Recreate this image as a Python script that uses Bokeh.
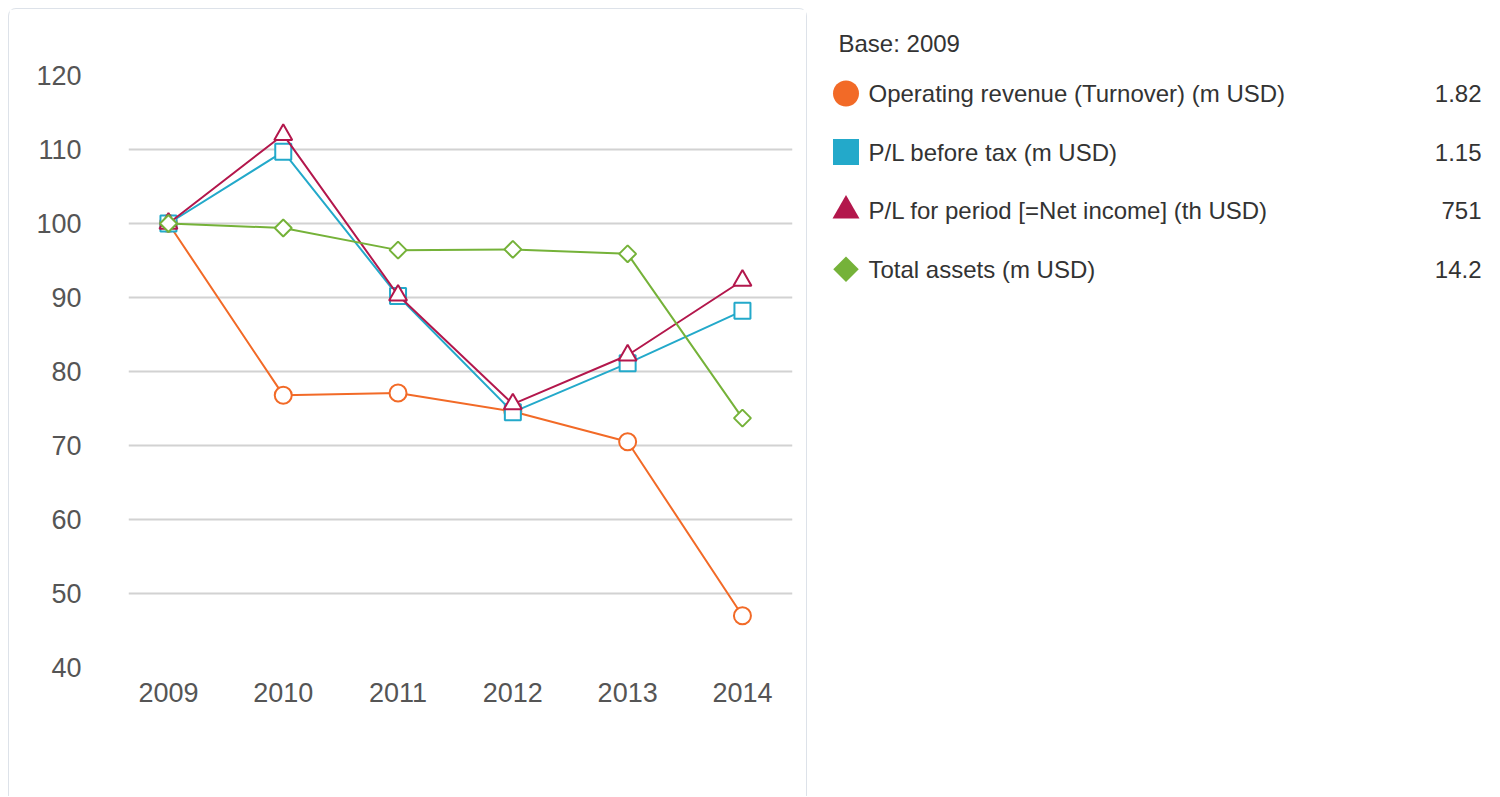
import math
from bokeh.plotting import figure
from bokeh.models import Range1d, FixedTicker, ColumnDataSource
from bokeh.layouts import row
from bokeh.embed import file_html
from bokeh.resources import INLINE
from bokeh.core.properties import value

# ---- data ----
years = [2009, 2010, 2011, 2012, 2013, 2014]
year_labels = ["2009", "2010", "2011", "2012", "2013", "2014"]
turnover = [100, 76.8, 77.1, 74.6, 70.5, 47.0]
pl_before_tax = [100, 109.7, 90.2, 74.5, 81.1, 88.2]
pl_period = [100, 112.0, 90.3, 75.6, 82.2, 92.3]
total_assets = [100, 99.4, 96.4, 96.5, 95.9, 73.7]
series_names = [
    "Operating revenue (Turnover) (m USD)",
    "P/L before tax (m USD)",
    "P/L for period [=Net income] (th USD)",
    "Total assets (m USD)",
]
base_values = ["1.82", "1.15", "751", "14.2"]
base_label = "Base: 2009"
y_ticks = [40, 50, 60, 70, 80, 90, 100, 110, 120]

# ---- styles ----
colors = ["#f26a27", "#23a9ca", "#b3174c", "#75b239"]
markers = ["circle", "square", "triangle", "square"]
angles = [0, 0, 0, math.pi / 4]
sizes = [17, 16, 18, 12]
leg_sizes = [26, 26, 27, 18]
FONT = "Liberation Sans"

series = [turnover, pl_before_tax, pl_period, total_assets]

H = 788
p = figure(width=799, height=H, output_backend="svg", toolbar_location=None,
           x_range=Range1d(2008.652, 2014.436), y_range=Range1d(40, 120),
           min_border_left=119, min_border_right=16, min_border_top=65,
           min_border_bottom=130)
p.outline_line_color = None
p.xgrid.grid_line_color = None
p.ygrid.grid_line_color = "#d2d2d2"
p.ygrid.grid_line_width = 2
p.yaxis.ticker = FixedTicker(ticks=y_ticks)
p.xaxis.ticker = FixedTicker(ticks=years)
p.xaxis.major_label_overrides = {y: s for y, s in zip(years, year_labels)}
for ax in (p.xaxis, p.yaxis):
    ax.axis_line_color = None
    ax.major_tick_line_color = None
    ax.minor_tick_line_color = None
    ax.major_tick_out = 0
    ax.major_tick_in = 0
    ax.major_label_text_font = FONT
    ax.major_label_text_font_size = "27px"
    ax.major_label_text_color = "#555555"
p.yaxis.major_label_standoff = 47
p.xaxis.major_label_standoff = 15
p.styles = {"border": "1px solid #dde2e9", "border-bottom": "none",
            "border-radius": "8px 8px 0 0"}

for vals, c, m, a, s in zip(series, colors, markers, angles, sizes):
    src = ColumnDataSource(dict(x=years, y=vals))
    p.line("x", "y", source=src, line_color=c, line_width=2)
    p.scatter("x", "y", source=src, marker=m, size=s, angle=a,
              fill_color="white", line_color=c, line_width=2)

# ---- legend panel (data units = page pixels; frame aligned with p) ----
W = 676
q = figure(width=W, height=H, output_backend="svg", toolbar_location=None,
           x_range=Range1d(809, 809 + W), y_range=Range1d(667, 74),
           min_border_left=0, min_border_right=0, min_border_top=66,
           min_border_bottom=130, x_axis_location=None, y_axis_location=None,
           title=base_label)
q.outline_line_color = None
q.grid.visible = False
q.title.text_font = FONT
q.title.text_font_size = "24px"
q.title.text_font_style = "normal"
q.title.text_color = "#333333"
q.title.offset = 31
q.title.standoff = 36

row0, step = 93, 58.7
ly = [row0 + i * step for i in range(len(series_names))]
for i in range(len(series_names)):
    q.scatter(x=[847.5], y=[ly[i]], marker=markers[i], size=leg_sizes[i],
              angle=angles[i], fill_color=colors[i], line_color=None)
q.text(x=[870] * len(ly), y=ly, text=series_names, text_font=value(FONT),
       text_font_size="24px", text_color="#333333", text_baseline="middle")
q.text(x=[1483] * len(ly), y=ly, text=base_values, text_font=value(FONT),
       text_font_size="24px", text_color="#333333", text_baseline="middle",
       text_align="right")

layout = row(p, q)
layout.margin = (8, 0, 0, 8)
open("out.html", "w").write(file_html(layout, INLINE))
